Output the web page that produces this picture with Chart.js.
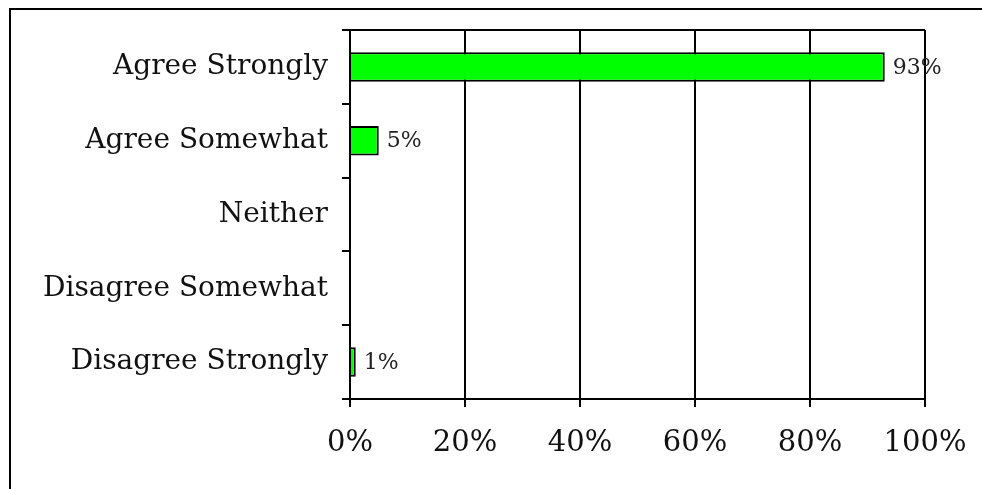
<!DOCTYPE html>
<html>
<head>
<meta charset="utf-8">
<script src="https://cdn.jsdelivr.net/npm/chart.js@4/dist/chart.umd.min.js"></script>
<style>
  html, body { margin: 0; padding: 0; background: #fff; }
  #wrap { width: 982px; height: 489px; }
</style>
</head>
<body>
<div id="wrap"><canvas id="surveyChart" width="982" height="489"></canvas></div>
<script>
// ---- data ----
const categories = ['Agree Strongly', 'Agree Somewhat', 'Neither', 'Disagree Somewhat', 'Disagree Strongly'];
const percentValues = [93, 5, 0, 0, 1];
const tickValues = [0, 20, 40, 60, 80, 100];

const FONT = '"DejaVu Serif", "Liberation Serif", serif';
const INK = '#111';

// outer frame + chart-area frame + value labels
const framePlugin = {
  id: 'framePlugin',
  beforeDraw(chart) {
    const c = chart.ctx;
    c.save();
    c.strokeStyle = '#000';
    c.lineWidth = 2;
    c.beginPath();
    c.moveTo(10, 495);
    c.lineTo(10, 9);
    c.lineTo(990, 9);
    c.stroke();
    c.restore();
  },
  afterDatasetsDraw(chart) {
    const c = chart.ctx;
    const { chartArea } = chart;
    c.save();
    c.strokeStyle = '#000';
    c.lineWidth = 2;
    c.beginPath();
    c.moveTo(chartArea.left - 8, chartArea.top);
    c.lineTo(chartArea.right, chartArea.top);
    c.stroke();

    const meta = chart.getDatasetMeta(0);
    c.fillStyle = '#222';
    c.font = '22px ' + FONT;
    c.textAlign = 'left';
    c.textBaseline = 'middle';
    meta.data.forEach((bar, i) => {
      const v = percentValues[i];
      if (!v) return;
      c.fillText(v + '%', bar.x + 8, bar.y + 1);
    });
    c.restore();
  }
};

new Chart(document.getElementById('surveyChart'), {
  type: 'bar',
  data: {
    labels: categories,
    datasets: [{
      data: percentValues,
      backgroundColor: '#00FF00',
      borderColor: '#000',
      borderWidth: 2,
      borderSkipped: 'start',
      categoryPercentage: 1,
      barPercentage: 0.4
    }]
  },
  options: {
    indexAxis: 'y',
    responsive: false,
    animation: false,
    layout: { padding: { top: 30, right: 57, left: 0, bottom: 0 } },
    plugins: { legend: { display: false }, tooltip: { enabled: false } },
    scales: {
      x: {
        min: 0,
        max: 100,
        afterBuildTicks: axis => { axis.ticks = tickValues.map(v => ({ value: v })); },
        afterFit: axis => {
          axis.height = 90;
          axis.paddingLeft = 0;
          axis.paddingRight = 0;
        },
        grid: { color: '#000', lineWidth: 2, tickLength: 8 },
        border: { color: '#000', width: 2 },
        ticks: {
          color: INK,
          font: { family: FONT, size: 29 },
          padding: 19,
          maxRotation: 0,
          callback: v => v + '%'
        }
      },
      y: {
        afterFit: axis => {
          axis.width = 350;
          axis.paddingTop = 0;
          axis.paddingBottom = 0;
        },
        grid: { drawOnChartArea: false, color: '#000', lineWidth: 2, tickLength: 8 },
        border: { color: '#000', width: 2 },
        ticks: {
          color: INK,
          font: { family: FONT, size: 28 },
          padding: 14
        }
      }
    }
  },
  plugins: [framePlugin]
});
</script>
</body>
</html>
